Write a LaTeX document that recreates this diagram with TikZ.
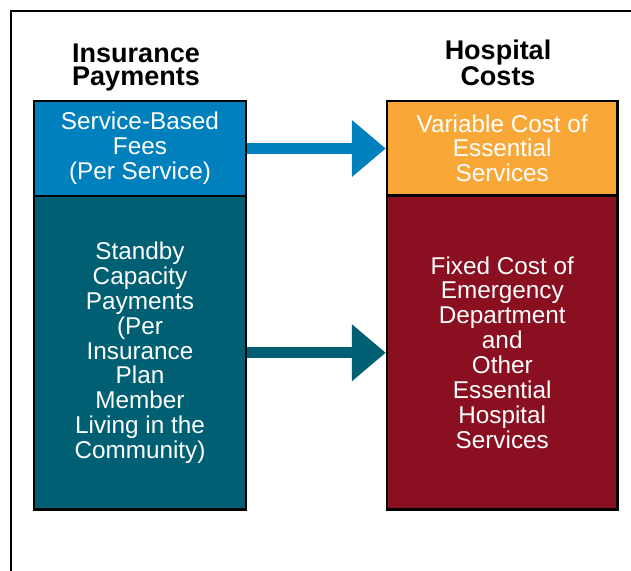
\documentclass[tikz,border=0pt]{standalone}
\usepackage{fontspec}
\setmainfont{Liberation Sans}
\usetikzlibrary{arrows.meta,calc}
\definecolor{feeblue}{RGB}{0,128,188}
\definecolor{standbyteal}{RGB}{0,95,115}
\definecolor{varorange}{RGB}{249,168,56}
\definecolor{fixedred}{RGB}{138,15,32}
\begin{document}
\begin{tikzpicture}[x=1pt,y=-1pt,
  box/.style={draw=black, line width=2.5pt, text=white, align=center,
    font=\fontsize{24.3}{24.9}\selectfont, inner sep=0pt},
  heading/.style={font=\fontsize{27}{23}\selectfont\bfseries, align=center, inner sep=0pt},
  flow/.style={line width=11pt, line cap=butt, -{Triangle[length=34pt,width=55pt]}}]
\clip (0,0) rectangle (631,570);
% outer frame (runs past the right and bottom edges)
\draw[line width=2pt] (11,11) rectangle (660,620);

% column headings
\node[heading, anchor=base] (payhead) at (136,85) {Insurance\\Payments};
\node[heading, anchor=base] (costhead) at (498,85) {Hospital\\Costs};

% insurance payment boxes
\node[box, fill=feeblue, minimum width=212pt, minimum height=95pt] (fees) at (140,148.5)
  {Service-Based\\Fees\\(Per Service)};
\node[box, fill=standbyteal, minimum width=212pt, minimum height=313.5pt] (standby) at (140,352.75)
  {Standby\\Capacity\\Payments\\(Per\\Insurance\\Plan\\Member\\Living in the\\Community)};

% hospital cost boxes
\node[box, fill=varorange, minimum width=230.5pt, minimum height=94.5pt] (variable) at (502.25,148.25)
  {Variable Cost of\\Essential\\Services};
\node[box, fill=fixedred, minimum width=230.5pt, minimum height=314pt] (fixed) at (502.25,352.5)
  {Fixed Cost of\\Emergency\\Department\\and\\Other\\Essential\\Hospital\\Services};

% payment flows
\draw[flow, feeblue] (fees.east) -- (fees.east -| variable.west);
\draw[flow, standbyteal] (standby.east) -- (standby.east -| fixed.west);
\end{tikzpicture}
\end{document}
